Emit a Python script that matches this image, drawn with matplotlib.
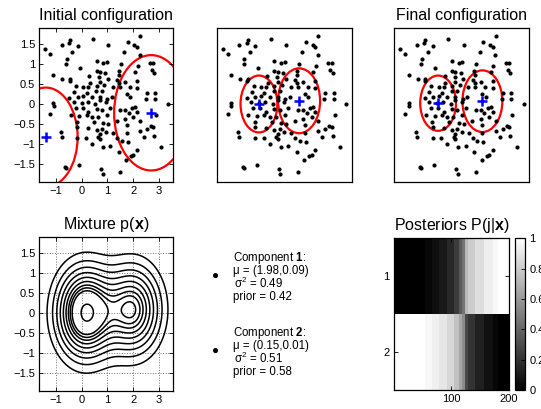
import numpy as np
import matplotlib
matplotlib.use("Agg")
import matplotlib.pyplot as plt
from matplotlib.patches import Ellipse

plt.rcParams['font.family'] = ['Liberation Sans', 'DejaVu Sans']
plt.rcParams['mathtext.fontset'] = 'custom'
plt.rcParams['mathtext.rm'] = 'Liberation Sans'
plt.rcParams['mathtext.it'] = 'Liberation Sans:italic'
plt.rcParams['mathtext.bf'] = 'Liberation Sans:bold'
plt.rcParams['mathtext.sf'] = 'Liberation Sans'

# ---------------- data ----------------
pts_x = [2.27, 1.79, 0.44, -0.45, -0.49, -0.78, -0.16, 1.04, 2.05, 2.14,
         -1.42, -1.23, -0.36, 1.66, 2.25, -0.58, 0.58, 0.84, 0.97, 1.52,
         -0.61, 2.66, 2.79, -0.06, 2.17, 2.73, 0.58, 0.71, 2.08, -1.10,
         0.91, 2.82, 1.43, 1.45, 0.30, 0.68, 1.01, -0.75, -0.45, -0.47,
         1.39, 0.32, 0.71, 1.45, 1.69, 2.14, -0.22, 0.06, 0.26, 0.58,
         0.87, 1.21, 1.47, 1.86, 2.14, 0.56, 0.78, -0.30, 0.19, 2.53,
         2.86, 1.75, -0.48, -0.16, 0.06, 0.39, 0.71, 1.00, 1.17, 1.88,
         2.49, 2.86, -1.10, -1.08, -0.32, 0.00, 0.23, 0.52, 0.71, 0.95,
         3.35, 2.08, 1.95, 1.69, 1.49, 2.14, -0.23, 0.04, 0.26, 0.58,
         0.78, 1.10, -1.23, -0.43, -0.09, 0.19, 0.39, 0.62, 0.97, 2.90,
         1.82, 2.01, -0.19, 0.48, 0.84, 1.04, 1.36, 1.69, 2.27, 2.69,
         2.79, 2.53, 1.75, -0.17, 0.26, 0.58, 0.78, 0.95, 1.23, -0.81,
         0.71, 0.65, 2.27, 2.43, 2.82, 1.75, -0.78, -0.17, 0.17, 0.71,
         1.39, 1.56, 1.79, 0.39, 0.82, 1.10, 3.09, 2.14, 2.01, 1.91,
         1.43, 1.73, -0.10, -0.65, -0.61, 0.75, 0.81, 1.49]
pts_y = [1.70, 1.56, 1.63, 1.60, 1.52, 1.48, 1.45, 1.48, 1.47, 1.43,
         1.37, 1.25, 1.31, 1.29, 1.23, 1.13, 1.08, 1.02, 1.06, 0.99,
         0.99, 1.03, 1.02, 0.89, 0.95, 0.85, 0.83, 0.81, 0.79, 0.73,
         0.77, 0.78, 0.83, 0.73, 0.70, 0.68, 0.63, 0.62, 0.62, 0.57,
         0.60, 0.53, 0.55, 0.52, 0.56, 0.58, 0.45, 0.43, 0.42, 0.45,
         0.48, 0.42, 0.43, 0.42, 0.39, 0.33, 0.33, 0.31, 0.27, 0.27,
         0.28, 0.24, 0.14, 0.18, 0.20, 0.17, 0.18, 0.12, 0.18, 0.18,
         0.12, 0.12, 0.02, -0.05, 0.06, 0.02, 0.06, 0.00, 0.10, 0.05,
         0.00, -0.08, -0.11, -0.15, -0.15, -0.19, -0.11, -0.11, -0.19, -0.13,
         -0.15, -0.11, -0.26, -0.28, -0.30, -0.28, -0.32, -0.33, -0.28, -0.28,
         -0.23, -0.33, -0.44, -0.44, -0.47, -0.50, -0.42, -0.38, -0.42, -0.55,
         -0.58, -0.63, -0.53, -0.58, -0.61, -0.65, -0.63, -0.69, -0.73, -0.69,
         -0.75, -0.82, -0.67, -0.82, -0.80, -0.73, -0.83, -0.86, -0.86, -0.88,
         -0.86, -0.92, -0.94, -1.01, -1.07, -1.05, -1.08, -1.15, -1.27, -1.30,
         -1.19, -1.40, -1.53, -1.57, -1.61, -1.63, -1.75, -1.69]

# component centres / radii drawn in the three configuration panels
init_cx, init_cy, init_r = [-1.40, 2.70], [-0.83, -0.22], [1.24, 1.44]
mid_cx, mid_cy, mid_r = [-0.02, 1.53], [0.00, 0.08], [0.71, 0.81]
final_cx, final_cy, final_r = [0.04, 1.75], [0.02, 0.07], [0.69, 0.77]

# final mixture parameters (text panel)
comp_mu = [(1.98, 0.09), (0.15, 0.01)]
comp_var = [0.49, 0.51]
comp_prior = [0.42, 0.58]
contour_levels = [0.020, 0.036, 0.053, 0.070, 0.087, 0.103, 0.117, 0.128, 0.139, 0.178]

# posterior P(1|x) read as runs of grey levels over the 200 sorted points
post_levels = [0.0, 0.03, 0.06, 0.10, 0.16, 0.24, 0.35, 0.45, 0.72, 0.80, 0.87, 0.93, 0.97, 1.0]
post_runs = [53, 12, 13, 14, 12, 8, 6, 4, 5, 13, 15, 15, 10, 20]

xlim = (-1.65, 3.56)
ylim = (-1.94, 1.89)
xticks = [-1, 0, 1, 2, 3]
yticks = [-1.5, -1, -0.5, 0, 0.5, 1, 1.5]

# ---------------- figure ----------------
W, H = 541, 409
fig = plt.figure(figsize=(W / 100, H / 100), dpi=100)

def fr(x0, y0, x1, y1):
    return [x0 / W, 1 - y1 / H, (x1 - x0) / W, (y1 - y0) / H]

TFS = 11.5
LFS = 8

def style(ax, ticks=True):
    ax.set_xlim(*xlim)
    ax.set_ylim(*ylim)
    for s in ax.spines.values():
        s.set_linewidth(0.9)
    if ticks:
        ax.set_xticks(xticks)
        ax.set_yticks(yticks)
        ax.set_yticklabels(['\u22121.5', '\u22121', '\u22120.5', '0', '0.5', '1', '1.5'])
        ax.tick_params(direction='in', top=True, right=True, length=3, width=0.6,
                       labelsize=LFS, pad=3)
    else:
        ax.set_xticks([])
        ax.set_yticks([])

def config_panel(ax, cx, cy, r):
    ax.plot(pts_x, pts_y, 'o', color='k', ms=3.0, mew=0)
    for x0, y0, rr in zip(cx, cy, r):
        ax.add_patch(Ellipse((x0, y0), 2 * rr, 2 * rr, fill=False, ec='red', lw=1.6))
    ax.plot(cx, cy, '+', color='blue', ms=7, mew=1.8)

ax1 = fig.add_axes(fr(39.3, 28.3, 173.3, 181.7))
config_panel(ax1, init_cx, init_cy, init_r)
style(ax1)
ax1.set_title('Initial configuration', fontsize=TFS, pad=6)

ax2 = fig.add_axes(fr(216.7, 28.3, 351.7, 181.7))
config_panel(ax2, mid_cx, mid_cy, mid_r)
style(ax2, ticks=False)

ax3 = fig.add_axes(fr(394.3, 28.3, 529.3, 181.7))
config_panel(ax3, final_cx, final_cy, final_r)
style(ax3, ticks=False)
ax3.set_title('Final configuration', fontsize=TFS, pad=6)

# mixture density contours
ax4 = fig.add_axes(fr(39.3, 237.3, 173.3, 391))
gx = np.linspace(xlim[0], xlim[1], 300)
gy = np.linspace(ylim[0], ylim[1], 300)
GX, GY = np.meshgrid(gx, gy)
P = np.zeros_like(GX)
for (mx, my), v, pr in zip(comp_mu, comp_var, comp_prior):
    P += pr / (2 * np.pi * v) * np.exp(-((GX - mx) ** 2 + (GY - my) ** 2) / (2 * v))
ax4.contour(GX, GY, P, levels=contour_levels, colors='k', linewidths=1.1)
style(ax4)
ax4.grid(True, ls=':', color='0.45', lw=0.7)
ax4.set_title(r'Mixture p($\mathbf{x}$)', fontsize=TFS, pad=6)

# text panel
for i, ((mx, my), v, pr) in enumerate(zip(comp_mu, comp_var, comp_prior)):
    y0 = [258.3, 333.3][i]
    fig.text(233 / W, 1 - y0 / H, r'Component $\mathbf{%d}$:' % (i + 1), fontsize=8.3, va='center')
    fig.text(233 / W, 1 - (y0 + 12.7) / H, '\u03bc = (%.2f,%.2f)' % (mx, my), fontsize=8.3, va='center')
    fig.text(234.5 / W, 1 - (y0 + 25.5) / H, r'$\mathregular{\sigma^2}$ = %.2f' % v, fontsize=8.3, va='center')
    fig.text(233 / W, 1 - (y0 + 38.4) / H, 'prior = %.2f' % pr, fontsize=8.3, va='center')
    fig.text(216 / W, 1 - (y0 + 18) / H, '\u25cf', fontsize=8.5, va='center', ha='center')

# posteriors
post1 = np.repeat(post_levels, post_runs)
post = np.vstack([post1, 1 - post1])
axp = fig.add_axes(fr(394, 238.3, 509.3, 390))
im = axp.imshow(post, cmap='gray', vmin=0, vmax=1, aspect='auto', interpolation='nearest',
                extent=(0.5, 200.5, 2.5, 0.5))
axp.set_xticks([100, 200])
axp.set_yticks([1, 2])
axp.tick_params(direction='in', top=True, right=True, length=3, width=0.6, labelsize=LFS, pad=3)
for s in axp.spines.values():
    s.set_linewidth(0.9)
axp.set_title(r'Posteriors P(j|$\mathbf{x}$)', fontsize=TFS, pad=6)

cax = fig.add_axes(fr(515, 238.3, 525, 390))
cb = fig.colorbar(im, cax=cax, ticks=[0, 0.2, 0.4, 0.6, 0.8, 1])
cb.ax.set_yticklabels(['0', '0.2', '0.4', '0.6', '0.8', '1'])
cb.ax.tick_params(direction='in', length=3, width=0.6, labelsize=LFS, pad=3)
cb.outline.set_linewidth(0.9)

fig.savefig('out.png', dpi=100)
